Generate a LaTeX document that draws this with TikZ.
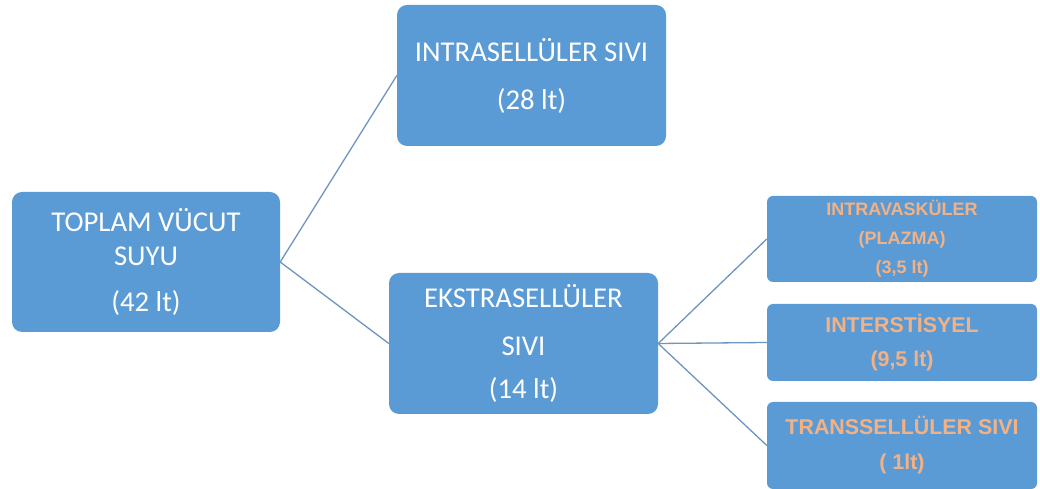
\documentclass[tikz,border=0pt]{standalone}
\usepackage{fontspec}
\setmainfont{Carlito}
\newfontfamily\arialf{Liberation Sans}
\definecolor{boxblue}{HTML}{5B9BD5}
\definecolor{linkblue}{HTML}{6D95BD}
\definecolor{txtorange}{HTML}{F4B183}
\begin{document}
\begin{tikzpicture}[x=1pt,y=1pt,
  bigbox/.style={fill=boxblue, draw=none, rounded corners=10pt, text=white, align=center,
    minimum width=268pt, minimum height=140pt, inner sep=0pt,
    font=\fontsize{28.7}{34}\selectfont},
  smallbox/.style={fill=boxblue, draw=none, rounded corners=6pt, text=txtorange, align=center,
    minimum width=270pt, inner sep=0pt},
  link/.style={draw=linkblue, line width=1.3pt}]
\useasboundingbox (0,0) rectangle (1040,489);
\node[bigbox] (top) at (146,227) {TOPLAM VÜCUT\\SUYU\\[12pt](42 lt)};
\node[bigbox, minimum width=269pt, minimum height=141pt] (intra) at (531.5,413.5) {INTRASELLÜLER SIVI\\[14pt](28 lt)};
\node[bigbox, minimum width=269pt, minimum height=141pt] (ekstra) at (523.5,145.5) {EKSTRASELLÜLER\\[14pt]SIVI\\[9pt](14 lt)};
\node[smallbox, minimum height=86pt, font=\arialf\bfseries\fontsize{18}{29}\selectfont] (vask) at (902,250) {INTRAVASKÜLER\\(PLAZMA)\\(3,5 lt)};
\node[smallbox, minimum height=77pt, font=\arialf\bfseries\fontsize{21.4}{34}\selectfont] (inter) at (902,146.5) {INTERSTİSYEL\\(9,5 lt)};
\node[smallbox, minimum height=87pt, font=\arialf\bfseries\fontsize{21.4}{35}\selectfont] (trans) at (902,43.5) {TRANSSELLÜLER SIVI\\( 1lt)};
\draw[link] (top.east) -- (intra.west);
\draw[link] (top.east) -- (ekstra.west);
\draw[link] (ekstra.east) -- (vask.west);
\draw[link] (ekstra.east) -- (inter.west);
\draw[link] (ekstra.east) -- (trans.west);
\end{tikzpicture}
\end{document}
